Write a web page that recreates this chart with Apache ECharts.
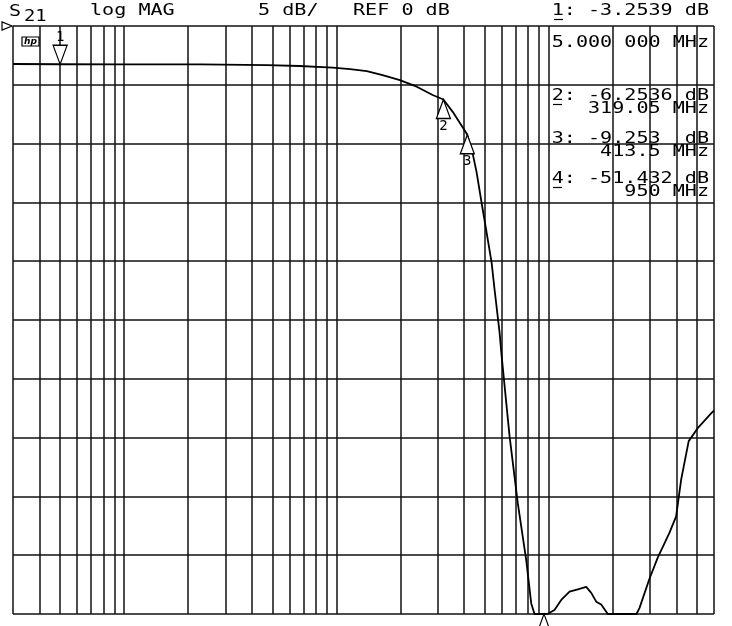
<!DOCTYPE html>
<html>
<head>
<meta charset="utf-8">
<script src="https://cdn.jsdelivr.net/npm/echarts@6/dist/echarts.min.js"></script>
<style>html,body{margin:0;padding:0;background:#fff}#c{width:732px;height:626px}</style>
</head>
<body>
<div id="c"></div>
<script>
// ---- data ----
const freqMHz = [3, 5, 10, 22.8, 47, 67, 96, 116, 139, 165, 199, 239, 284, 319.05, 353, 393, 413.5, 440, 457, 483, 510, 538, 556, 587, 598, 654, 715, 783, 827, 857, 950, 986, 1064, 1145, 1253, 1371, 1501, 1585, 1673, 1766, 1897, 2200, 2588, 2674, 2980, 3260, 3700, 3980, 4200, 4560, 5027, 5875, 6000];
const s21dB = [-3.23, -3.2539, -3.27, -3.26, -3.32, -3.4, -3.54, -3.66, -3.83, -4.17, -4.6, -5.16, -5.87, -6.2536, -7.3, -8.6, -9.253, -11.0, -12.4, -15.05, -17.6, -20.1, -22.45, -26.1, -27.8, -34.9, -40.6, -45.4, -49.1, -50.5, -51.432, -51, -49.66, -48.8, -48.1, -47.9, -47.7, -48.2, -48.95, -49.2, -50.3, -51, -50.3, -49.5, -47.0, -45.2, -43.1, -41.7, -38.6, -35.3, -34.2, -32.85, -32.7];
const markerNames = ['1', '2', '3', '4'];
const markerFreq = [5, 319.05, 413.5, 950];
const markerDB = [-3.2539, -6.2536, -9.253, -51.432];
const gridFreq = [3,4,5,6,7,8,9,10,20,30,40,50,60,70,80,90,100,200,300,400,500,600,700,800,900,1000,2000,3000,4000,5000,6000];
const yMin = -50, yMax = 0, yStep = 5;
const xMin = 3, xMax = 6000;
const headerTexts = ['log MAG', '5 dB/', 'REF 0 dB'];
const markerReadout = [
  ['1: -3.2539 dB', '5.000 000 MHz'],
  ['2: -6.2536 dB', '319.05 MHz'],
  ['3: -9.253  dB', '413.5 MHz'],
  ['4: -51.432 dB', '950 MHz']
];

// ---- chart ----
const FONT = '15px "DejaVu Sans Mono"';
const SX = 1.34;
function txt(s, x, y, align, extra) {
  return Object.assign({
    type: 'text', x: x, y: y, scaleX: SX, z: 10,
    style: { text: s, font: FONT, fill: '#000', textAlign: align || 'left', textVerticalAlign: 'top' }
  }, extra || {});
}
const graphics = [
  txt('S', 9, 4, 'left', {scaleX: 1.25, style: {text: 'S', font: '16px "DejaVu Sans Mono"', fill: '#000', textVerticalAlign: 'top'}}),
  txt('21', 24, 10, 'left', {scaleX: 1.25}),
  txt(headerTexts[0], 90, 4),
  txt(headerTexts[1], 258, 4),
  txt(headerTexts[2], 353, 4),
  txt(markerReadout[0][0], 709, 4, 'right'),
  txt(markerReadout[0][1], 709, 36, 'right'),
  txt(markerReadout[1][0], 709, 89, 'right'),
  txt(markerReadout[1][1], 709, 102, 'right'),
  txt(markerReadout[2][0], 709, 132, 'right'),
  txt(markerReadout[2][1], 709, 145, 'right'),
  txt(markerReadout[3][0], 709, 172, 'right'),
  txt(markerReadout[3][1], 709, 185, 'right'),
  {type: 'line', z: 10, shape: {x1: 554, y1: 19.5, x2: 563, y2: 19.5}, style: {stroke: '#000', lineWidth: 1.2}},
  {type: 'line', z: 10, shape: {x1: 553, y1: 104.5, x2: 562, y2: 104.5}, style: {stroke: '#000', lineWidth: 1.2}},
  {type: 'line', z: 10, shape: {x1: 553, y1: 187.5, x2: 562, y2: 187.5}, style: {stroke: '#000', lineWidth: 1.2}},
  {type: 'polygon', z: 10, shape: {points: [[2, 22], [2, 30], [12, 26]]}, style: {fill: '#fff', stroke: '#000', lineWidth: 1.2}},
  {type: 'rect', z: 10, shape: {x: 22, y: 37, width: 17, height: 9}, style: {fill: '#fff', stroke: '#000', lineWidth: 1.2}},
  {type: 'text', z: 11, x: 30.5, y: 41.5, style: {text: 'hp', font: 'italic bold 9px "DejaVu Sans"', fill: '#000', textAlign: 'center', textVerticalAlign: 'middle'}}
];

const markPts = markerFreq.map((f, i) => {
  const down = i === 0;
  return {
    name: markerNames[i],
    coord: [f, Math.max(markerDB[i], yMin)],
    symbol: 'triangle',
    symbolSize: [14, 19],
    symbolRotate: down ? 180 : 0,
    symbolOffset: [0, down ? '-50%' : '50%'],
    itemStyle: {color: '#fff', borderColor: '#000', borderWidth: 1.3},
    label: {show: true, formatter: markerNames[i], position: down ? 'top' : 'bottom', distance: 0,
      color: '#000', fontFamily: 'DejaVu Sans Mono', fontSize: 14, fontWeight: 'normal'}
  };
});

const chart = echarts.init(document.getElementById('c'), null, {renderer: 'canvas'});
chart.setOption({
  backgroundColor: '#fff',
  animation: false,
  grid: {left: 13, right: 18, top: 26, bottom: 12},
  xAxis: {
    type: 'log', logBase: 10, min: xMin, max: xMax,
    axisLine: {show: false}, axisTick: {show: false}, axisLabel: {show: false}, splitLine: {show: false}
  },
  yAxis: {
    type: 'value', min: yMin, max: yMax, interval: yStep,
    axisLine: {show: false}, axisTick: {show: false}, axisLabel: {show: false},
    splitLine: {show: true, lineStyle: {color: '#111', width: 1.5}}
  },
  graphic: graphics,
  series: [
    {
      type: 'line', data: [], silent: true, z: 1,
      markLine: {
        silent: true, symbol: ['none', 'none'], animation: false,
        label: {show: false},
        lineStyle: {color: '#111', width: 1.5, type: 'solid'},
        data: gridFreq.map(f => ({xAxis: f}))
      }
    },
    {
      type: 'line', z: 5, clip: true,
      data: freqMHz.map((f, i) => [f, Math.max(s21dB[i], yMin)]),
      showSymbol: false, symbol: 'none',
      lineStyle: {color: '#000', width: 1.8},
      markPoint: {data: markPts, animation: false, z: 8}
    }
  ]
});
</script>
</body>
</html>
